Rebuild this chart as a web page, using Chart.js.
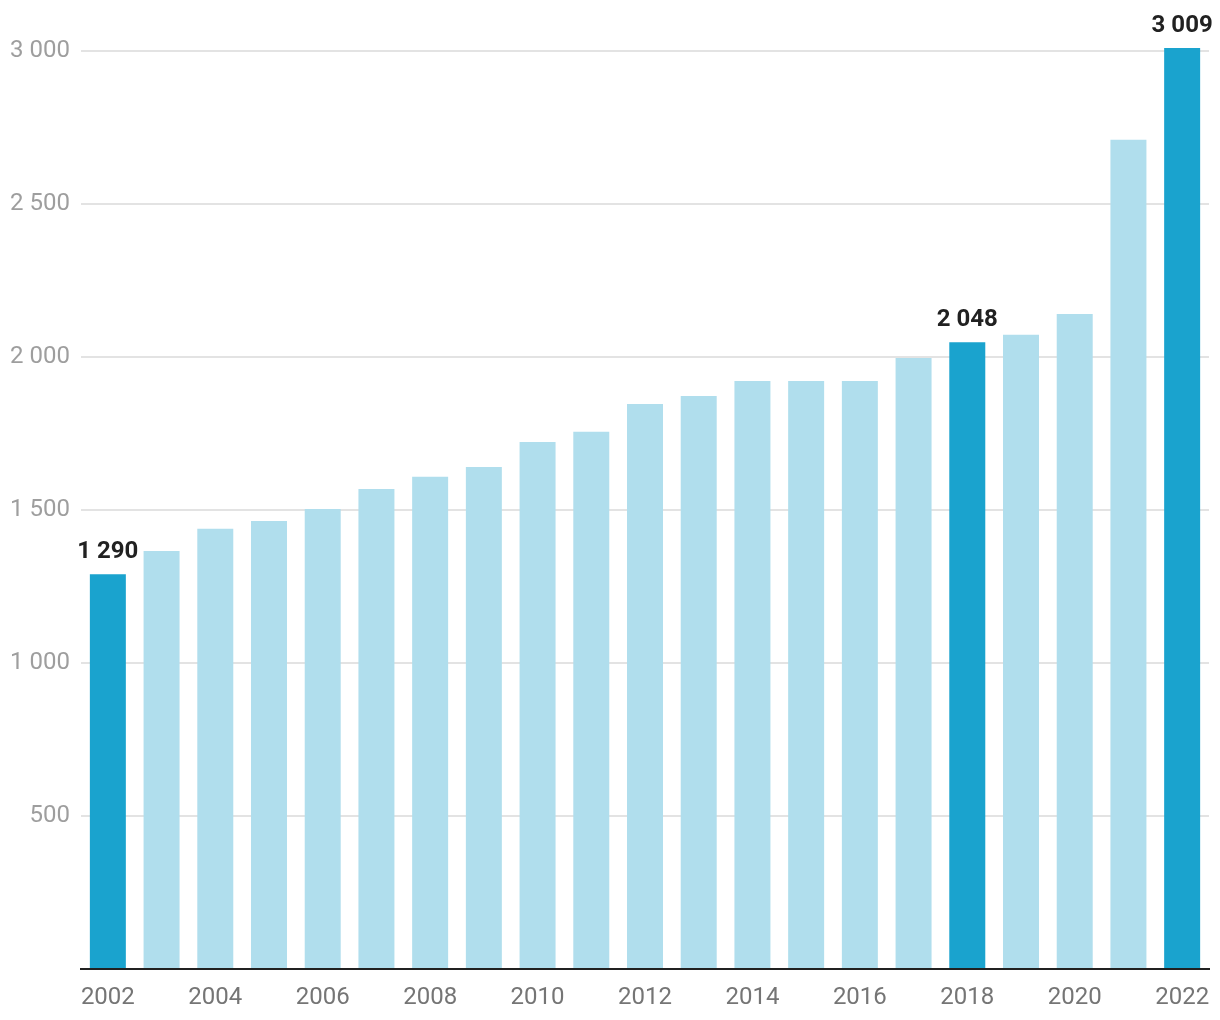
<!DOCTYPE html>
<html>
<head>
<meta charset="utf-8">
<script src="https://cdn.jsdelivr.net/npm/chart.js@4/dist/chart.umd.min.js"></script>
<style>
  html, body { margin: 0; padding: 0; background: #fff; }
  #wrap { width: 1220px; height: 1020px; }
</style>
</head>
<body>
<div id="wrap"><canvas id="chart"></canvas></div>
<script>
const years = ['2002', '2003', '2004', '2005', '2006', '2007', '2008', '2009', '2010', '2011',
    '2012', '2013', '2014', '2015', '2016', '2017', '2018', '2019', '2020', '2021', '2022'];
const values = [1290, 1366, 1438, 1464, 1503, 1568, 1608, 1640, 1722, 1755,
    1846, 1872, 1921, 1921, 1921, 1996, 2048, 2072, 2140, 2709, 3009];
const highlighted = ['2002', '2018', '2022'];
const yTicks = [500, 1000, 1500, 2000, 2500, 3000];

const DARK = '#1aa3ce';
const LIGHT = '#b0deed';

function fmt(n) {
    return String(n).replace(/\B(?=(\d{3})+(?!\d))/g, ' ');
}

// draws the value above highlighted bars
const barLabels = {
    id: 'barLabels',
    afterDatasetsDraw(chart) {
        const ctx = chart.ctx;
        const meta = chart.getDatasetMeta(0);
        ctx.save();
        ctx.font = 'bold 24px Roboto';
        ctx.fillStyle = '#212121';
        ctx.textAlign = 'center';
        ctx.textBaseline = 'alphabetic';
        meta.data.forEach((bar, i) => {
            if (!highlighted.includes(years[i])) return;
            ctx.fillText(fmt(values[i]), bar.x, bar.y - 16);
        });
        ctx.restore();
    }
};

Chart.defaults.font.family = 'Roboto';
Chart.defaults.font.size = 24;

new Chart(document.getElementById('chart'), {
    type: 'bar',
    data: {
        labels: years,
        datasets: [{
            data: values,
            backgroundColor: years.map(y => highlighted.includes(y) ? DARK : LIGHT),
            barPercentage: 0.67,
            categoryPercentage: 1
        }]
    },
    options: {
        responsive: true,
        maintainAspectRatio: false,
        animation: false,
        layout: { padding: { top: 48, right: 11, left: 0, bottom: 0 } },
        plugins: {
            legend: { display: false },
            tooltip: { enabled: false }
        },
        scales: {
            x: {
                grid: { display: false, drawTicks: false },
                border: { color: '#212121', width: 2 },
                afterFit: s => {
                    s.height = 51;
                    s.paddingLeft = 0;
                    s.paddingRight = 0;
                },
                ticks: {
                    color: '#757575',
                    padding: 15,
                    autoSkip: false,
                    maxRotation: 0,
                    callback: (v, i) => i % 2 === 0 ? years[i] : ''
                }
            },
            y: {
                min: 0,
                max: 3009,
                afterFit: s => { s.width = 81; },
                afterBuildTicks: s => { s.ticks = [0].concat(yTicks).map(v => ({ value: v })); },
                grid: { color: '#e3e3e3', lineWidth: 2, drawTicks: false },
                border: { display: false },
                ticks: {
                    color: '#9e9e9e',
                    padding: 11,
                    callback: v => v === 0 ? '' : fmt(v)
                }
            }
        }
    },
    plugins: [barLabels]
});
</script>
</body>
</html>
